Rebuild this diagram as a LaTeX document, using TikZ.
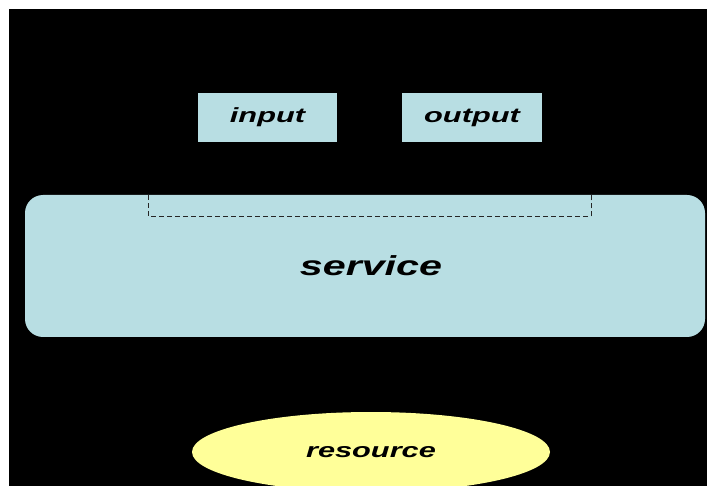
\documentclass[tikz,border=0pt]{standalone}
\usepackage{fontspec}
\newfontfamily\diagfont[FakeStretch=1.5]{Liberation Sans}
\usetikzlibrary{shapes.geometric}
\definecolor{boxblue}{RGB}{184,222,227}
\definecolor{resyellow}{RGB}{255,255,153}
\tikzset{
  part/.style={rectangle, fill=boxblue, inner sep=0pt, font=\diagfont\bfseries\itshape\fontsize{20.5}{24}\selectfont},
}

\begin{document}
\begin{tikzpicture}[x=1pt,y=-1pt]
	\useasboundingbox (0,0) rectangle (707,486);
	\clip (0,0) rectangle (707,486);
	\fill[black] (9,9) rectangle (707,486);
	% messages
	\node[part, minimum width=139pt, minimum height=49pt] (input) at (267.5,117.5) {input};
	\node[part, minimum width=140pt, minimum height=49pt] (output) at (472,117.5) {output};
	% service
	\node[part, rounded corners=18pt, minimum width=680pt, minimum height=142pt,
		font=\diagfont\bfseries\itshape\fontsize{27.5}{32}\selectfont] (service) at (365,266) {\hspace*{12pt}service};
	\node[minimum width=442pt, minimum height=21pt, inner sep=0pt] (iface) at (370,206) {};
	\draw[dash pattern=on 5pt off 3pt, line width=0.8pt, black!85] (iface.north west) |- (iface.south east) -- (iface.north east);
	% resource
	\node[ellipse, fill=resyellow, inner sep=0pt, minimum width=358pt, minimum height=80pt,
		font=\diagfont\bfseries\itshape\fontsize{20.5}{24}\selectfont] (resource) at (371,452) {resource};
\end{tikzpicture}
\end{document}
